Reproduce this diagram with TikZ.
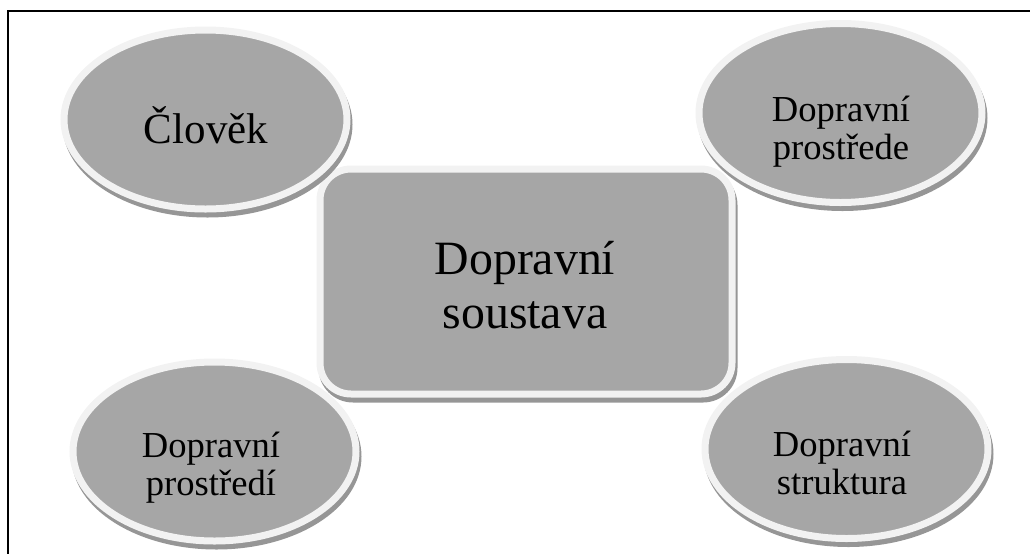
\documentclass[tikz,border=0pt]{standalone}
\usepackage{fontspec}
\setmainfont{Liberation Serif}
\usepackage{tikz}
\definecolor{bubblegray}{RGB}{166, 166, 166}
\definecolor{ringwhite}{RGB}{242, 242, 242}
\definecolor{shadegray}{RGB}{150, 150, 150}
\usetikzlibrary{shapes.geometric}

\begin{document}
\begin{tikzpicture}[
    x=0.5pt, y=-0.5pt,
    bubble/.style={ellipse, fill=bubblegray, draw=ringwhite, line width=3.5pt, minimum width=141.5pt, minimum height=89.5pt, inner sep=0pt,
        preaction={draw=shadegray, fill=shadegray, transform canvas={xshift=1pt, yshift=-2.5pt}}},
    hub/.style={rectangle, rounded corners=15.5pt, fill=bubblegray, draw=ringwhite, line width=3.5pt, minimum width=206pt, minimum height=112.5pt, inner sep=0pt,
        preaction={draw=shadegray, fill=shadegray, transform canvas={xshift=1pt, yshift=-2.5pt}}},
    bubbletext/.style={anchor=base, align=center, font=\fontsize{18.3}{19}\selectfont}
]
    \path[use as bounding box, clip] (0, 0) rectangle (1030, 553);
    \draw[line width=1pt] (8, 600) |- (1100, 11);

    \node[hub] (soustava) at (526, 281.5) {};
    \node[bubble] (clovek) at (205.5, 119.5) {};
    \node[bubble] (prostrede) at (840.5, 113) {};
    \node[bubble] (prostredi) at (214.5, 451.5) {};
    \node[bubble] (struktura) at (846.5, 449) {};

    \node[anchor=base, font=\fontsize{21.5}{23}\selectfont] (clovektext) at (206, 143) {Člověk};
    \node[bubbletext] (prostredetext) at (841, 159) {Dopravní\\prostřede};
    \node[bubbletext] (prostreditext) at (211, 495.5) {Dopravní\\prostředí};
    \node[bubbletext] (strukturatext) at (842, 494) {Dopravní\\struktura};
    \node[anchor=base, align=center, font=\fontsize{23.9}{27}\selectfont] (soustavatext) at (525, 328) {Dopravní\\soustava};
\end{tikzpicture}
\end{document}
